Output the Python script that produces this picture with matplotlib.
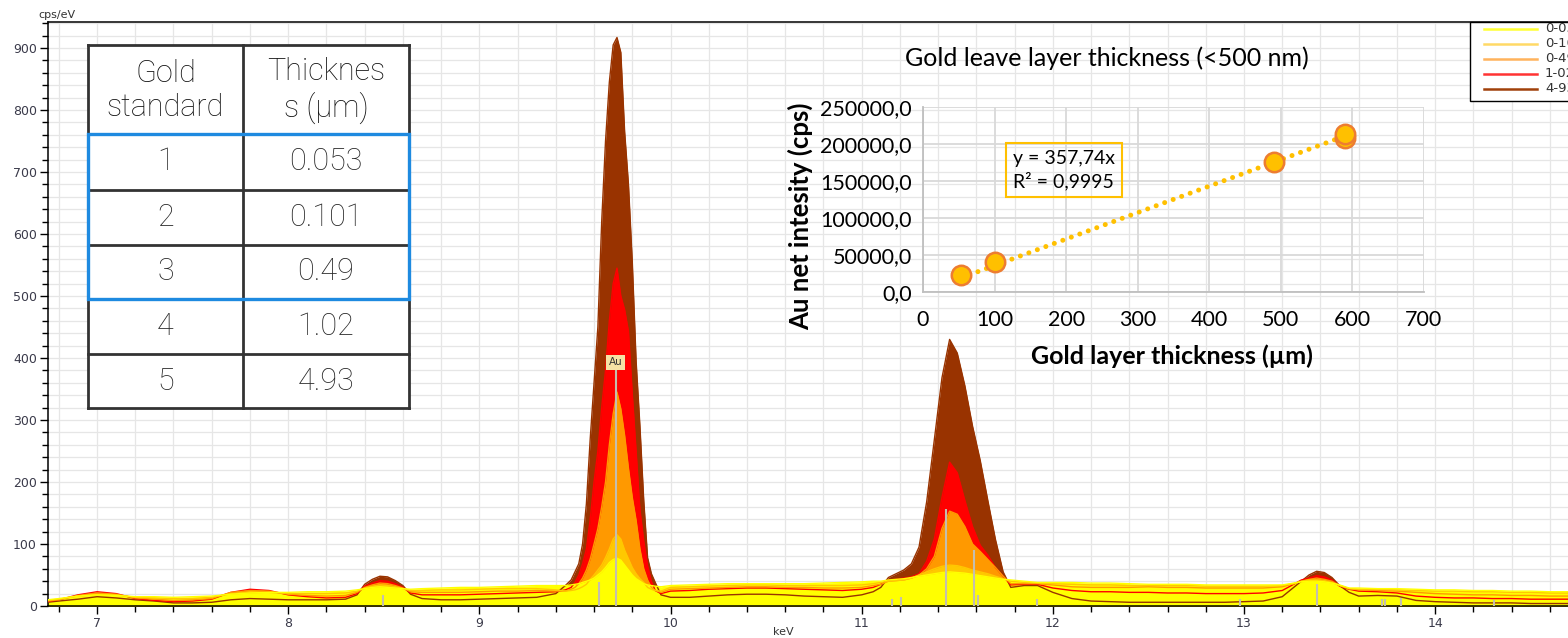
import numpy as np
import matplotlib
matplotlib.use("Agg")
import matplotlib.pyplot as plt
from matplotlib.lines import Line2D
from matplotlib.patches import Rectangle
from matplotlib.ticker import MultipleLocator, FuncFormatter

# ---- spectrum data (keV grid, counts in cps/eV) ----
kev = [6.74, 6.80, 6.90, 7.00, 7.10, 7.20, 7.30, 7.40, 7.50, 7.60, 7.70, 7.80, 7.90,
       8.00, 8.10, 8.20, 8.30, 8.36, 8.40, 8.44, 8.48, 8.52, 8.56, 8.60, 8.64, 8.70,
       8.80, 8.90, 9.00, 9.10, 9.20, 9.30, 9.40,
       9.45, 9.48, 9.50, 9.52, 9.54, 9.56, 9.58, 9.60, 9.62, 9.64, 9.66, 9.68, 9.70,
       9.72, 9.74, 9.76, 9.78, 9.80, 9.82, 9.84, 9.86, 9.88, 9.90, 9.92, 9.95,
       10.00, 10.10, 10.20, 10.30, 10.40, 10.50, 10.60, 10.70, 10.80, 10.90, 11.00, 11.06,
       11.10, 11.14, 11.18, 11.22, 11.26, 11.30, 11.34, 11.38, 11.42, 11.46, 11.50,
       11.54, 11.58, 11.62, 11.66, 11.70, 11.74, 11.78,
       11.85, 11.92, 12.00, 12.10, 12.20, 12.30, 12.40, 12.50, 12.60, 12.70, 12.80,
       12.90, 13.00, 13.10, 13.20, 13.26, 13.30, 13.34, 13.38, 13.42, 13.46, 13.50,
       13.55, 13.60, 13.70, 13.80, 13.90, 14.00, 14.10, 14.20, 14.30, 14.40, 14.50,
       14.60, 14.70, 14.80]

s_0053 = [10, 12, 16, 18, 17, 15, 15, 14, 15, 16, 19, 21, 22,
          22, 23, 23, 24, 26, 28, 30, 31, 30, 29, 28, 27, 28,
          29, 30, 30, 31, 32, 33, 33,
          33, 34, 35, 36, 38, 40, 42, 45, 50, 55, 62, 70, 75,
          77, 74, 66, 58, 50, 44, 40, 36, 34, 33, 32, 31,
          33, 34, 35, 36, 36, 36, 36, 36, 37, 38, 39, 40,
          40, 42, 43, 44, 46, 48, 50, 52, 54, 55, 54,
          53, 51, 49, 47, 45, 43, 42,
          40, 38, 38, 38, 37, 37, 36, 35, 35, 35, 34,
          34, 34, 34, 34, 37, 39, 40, 40, 39, 37, 34,
          29, 29, 28, 28, 27, 26, 26, 25, 25, 24, 24,
          23, 23, 22]

s_0101 = [9, 11, 16, 19, 18, 14, 13, 12, 12, 14, 20, 23, 22,
          20, 20, 20, 21, 24, 29, 32, 34, 33, 31, 28, 25, 25,
          26, 26, 27, 28, 28, 28, 26,
          24, 25, 26, 28, 31, 35, 43, 50, 58, 66, 78, 92, 108,
          115, 108, 90, 76, 62, 52, 44, 38, 30, 27, 25, 24,
          30, 31, 32, 33, 34, 34, 33, 33, 33, 33, 34, 36,
          38, 40, 41, 42, 45, 50, 55, 60, 64, 66, 65,
          62, 58, 55, 52, 48, 44, 40,
          38, 37, 36, 35, 34, 34, 33, 33, 33, 33, 32,
          32, 32, 32, 33, 36, 40, 42, 42, 41, 38, 33,
          28, 27, 27, 26, 25, 24, 24, 23, 23, 22, 22,
          21, 21, 20]

s_049 = [8, 10, 17, 21, 19, 13, 11, 9, 10, 12, 22, 25, 24,
         19, 17, 16, 17, 22, 30, 34, 37, 36, 33, 29, 23, 22,
         22, 22, 23, 24, 24, 25, 24,
         24, 27, 30, 36, 45, 58, 76, 100, 125, 160, 200, 260, 310,
         345, 318, 275, 222, 175, 138, 92, 60, 42, 30, 25, 22,
         27, 28, 29, 30, 31, 31, 30, 30, 29, 29, 30, 33,
         35, 40, 41, 42, 45, 50, 60, 80, 125, 153, 148,
         128, 100, 88, 75, 62, 48, 36,
         36, 36, 34, 31, 30, 30, 30, 31, 30, 30, 29,
         29, 29, 29, 31, 36, 40, 43, 45, 43, 40, 33,
         28, 26, 25, 24, 22, 20, 19, 18, 18, 17, 17,
         16, 16, 15]

s_102 = [7, 10, 18, 23, 20, 12, 9, 7, 8, 11, 22, 27, 25,
         18, 15, 13, 14, 20, 32, 37, 41, 40, 36, 30, 21, 18,
         18, 18, 19, 20, 21, 22, 23,
         26, 30, 38, 50, 68, 92, 140, 200, 250, 320, 380, 460, 520,
         545, 500, 478, 443, 342, 250, 155, 105, 65, 40, 25, 20,
         24, 25, 27, 28, 29, 29, 28, 27, 26, 25, 27, 30,
         35, 42, 43, 45, 47, 52, 72, 108, 175, 232, 215,
         170, 128, 98, 82, 62, 48, 34,
         35, 35, 29, 25, 23, 23, 22, 22, 21, 21, 20,
         20, 20, 21, 25, 35, 42, 45, 49, 47, 42, 32,
         27, 24, 23, 21, 16, 14, 13, 13, 12, 12, 11,
         11, 11, 10]

s_493 = [6, 8, 11, 15, 13, 10, 8, 5, 5, 6, 10, 12, 11,
         10, 10, 10, 11, 18, 35, 43, 48, 47, 41, 33, 19, 12,
         10, 10, 11, 12, 13, 14, 20,
         33, 42, 55, 68, 100, 165, 270, 360, 450, 620, 750, 845, 905,
         917, 893, 765, 680, 555, 395, 290, 170, 78, 52, 38, 18,
         14, 14, 16, 18, 19, 19, 18, 16, 15, 14, 18, 23,
         30, 46, 52, 58, 68, 95, 168, 268, 368, 430, 408,
         355, 290, 235, 170, 107, 55, 30,
         33, 33, 22, 12, 8, 7, 6, 6, 6, 6, 6,
         6, 7, 8, 15, 30, 40, 50, 56, 54, 46, 33,
         22, 16, 17, 16, 9, 7, 6, 5, 5, 5, 4,
         4, 4, 4]

series_labels = ["0-053", "0-101", "0-49", "1-02", "4-93"]
series_colors = ["#FFFF00", "#FFC800", "#FF9900", "#FF0000", "#993300"]
legend_colors = ["#FFFF33", "#FFD966", "#FFB35C", "#FF3333", "#A0400A"]

# element marker lines (keV, height)
line_kev = [8.494, 9.628, 9.713, 11.158, 11.205, 11.442, 11.585, 11.610, 11.915,
            12.98, 13.381, 13.72, 13.74, 13.82, 14.31]
line_h = [18, 39, 380, 11, 15, 156, 90, 18, 12, 12, 35, 12, 12, 13, 10]

# ---- inset data ----
thick = [53, 101, 490, 590, 590]
intensity = [22900, 40500, 175500, 208000, 213000]
trend_x = [53, 607]
trend_y = [19000, 217100]

# ---- table data ----
tab_header = ["Gold\nstandard", "Thicknes\ns (\u00b5m)"]
tab_std = ["1", "2", "3", "4", "5"]
tab_thick = ["0.053", "0.101", "0.49", "1.02", "4.93"]

W, H = 1568, 638


def fx(px):
    return px / W


def fy(py):
    return 1 - py / H


fig = plt.figure(figsize=(W / 100, H / 100), dpi=100)

# ---- main spectrum ----
ax = fig.add_axes([fx(48), fy(606), (1590 - 48) / W, 584 / H])
all_series = [s_0053, s_0101, s_049, s_102, s_493]
for vals, col in reversed(list(zip(all_series, series_colors))):
    ax.fill_between(kev, 0, vals, color=col, lw=0, zorder=2)
for vals, col in reversed(list(zip(all_series, series_colors))):
    ax.plot(kev, vals, color=col, lw=1.0, zorder=3)
ax.vlines(line_kev, 0, line_h, color="#C4BEAE", lw=1.5, zorder=4)
ax.text(9.713, 393, "Au", fontsize=7.5, ha="center", va="center", color="#333333",
        bbox=dict(boxstyle="square,pad=0.25", fc="#F6E2A4", ec="none"), zorder=5)

ax.set_xlim(6.7435, 14.81)
ax.set_ylim(0, 942)
ax.xaxis.set_major_locator(MultipleLocator(1))
ax.xaxis.set_minor_locator(MultipleLocator(0.2))
ax.yaxis.set_major_locator(MultipleLocator(100))
ax.yaxis.set_minor_locator(MultipleLocator(20))
ax.grid(True, which="both", color="#E6E6E6", lw=0.9, zorder=0)
ax.set_axisbelow(True)
ax.tick_params(which="major", direction="out", length=6, width=1, labelsize=9,
               labelcolor="#3A3A4A", pad=2)
ax.tick_params(which="minor", direction="out", length=4, width=1)
for sp in ax.spines.values():
    sp.set_color("black")
    sp.set_linewidth(1.1)

fig.text(fx(38), fy(15), "cps/eV", fontsize=8, color="#333333", va="center")
fig.text(fx(783), fy(632), "keV", fontsize=8, color="#333333", ha="center", va="center")

# legend box (cut by the right edge like in the original screenshot)
fig.add_artist(Rectangle((fx(1470), fy(101)), (1600 - 1470) / W, (101 - 22) / H,
                         transform=fig.transFigure, fc="white", ec="black", lw=1.0))
for i, (lab, col) in enumerate(zip(series_labels, legend_colors)):
    yy = 28.7 + 15 * i
    fig.add_artist(Line2D([fx(1484), fx(1537)], [fy(yy), fy(yy)],
                          transform=fig.transFigure, color=col, lw=1.8))
    fig.text(fx(1545), fy(yy), lab, fontsize=9.5, color="#333333", va="center")

# ---- inset calibration chart ----
ax_in = fig.add_axes([fx(923), fy(292), 501 / W, 185 / H])
ax_in.patch.set_alpha(0)
ax_in.set_xlim(0, 700)
ax_in.set_ylim(0, 250000)
ax_in.xaxis.set_major_locator(MultipleLocator(100))
ax_in.yaxis.set_major_locator(MultipleLocator(50000))
ax_in.yaxis.set_major_formatter(FuncFormatter(lambda v, p: f"{v:.1f}".replace(".", ",")))
ax_in.grid(True, color="#D9D9D9", lw=1.3)
ax_in.set_axisbelow(True)
for side in ["top", "right"]:
    ax_in.spines[side].set_visible(False)
for side in ["left", "bottom"]:
    ax_in.spines[side].set_color("#BFBFBF")
    ax_in.spines[side].set_linewidth(1.3)
ax_in.tick_params(length=0, labelsize=15.5, labelcolor="black")
ax_in.tick_params(axis="x", pad=13)
ax_in.tick_params(axis="y", pad=8)
for lab in ax_in.get_xticklabels() + ax_in.get_yticklabels():
    lab.set_family("Lato")

ax_in.plot(trend_x, trend_y, color="#FFC000", lw=3.6, linestyle=(0, (0.01, 1.8)),
           dash_capstyle="round", zorder=4)
ax_in.plot(thick, intensity, "o", ms=14, mfc="#FFC000", mec="#ED7D31", mew=1.8,
           zorder=5, clip_on=False)
ax_in.text(0.281, 0.659, "y = 357,74x\nR\u00b2 = 0,9995", transform=ax_in.transAxes,
           ha="center", va="center", fontsize=14, family="Lato", linespacing=1.3,
           bbox=dict(boxstyle="square,pad=0.35", fc="none", ec="#FFC000", lw=1.5))
ax_in.text(0.367, 1.265, "Gold leave layer thickness (<500 nm)", transform=ax_in.transAxes,
           ha="center", va="center", fontsize=18, family="Lato")
ax_in.set_xlabel("Gold layer thickness (\u00b5m)", fontsize=18, fontweight="bold",
                 family="Lato", va="center")
ax_in.xaxis.set_label_coords(0.497, -0.346)
ax_in.set_ylabel("Au net intesity (cps)", fontsize=18.5, fontweight="bold", family="Lato",
                 va="center")
ax_in.yaxis.set_label_coords(-0.2455, 0.41)

# ---- table ----
ax_t = fig.add_axes([fx(88), fy(408), 321 / W, 363 / H])
ax_t.set_xlim(88, 409)
ax_t.set_ylim(408, 45)
ax_t.set_xticks([])
ax_t.set_yticks([])
for sp in ax_t.spines.values():
    sp.set_visible(False)
ax_t.set_facecolor("white")
row_edges = [45, 134, 190, 245, 299, 354, 408]
col_edges = [88, 243, 409]
for y in row_edges:
    ax_t.plot([88, 409], [y, y], color="#333333", lw=2, clip_on=False,
              solid_capstyle="projecting")
for x in col_edges:
    ax_t.plot([x, x], [45, 408], color="#333333", lw=2, clip_on=False,
              solid_capstyle="projecting")
ax_t.add_patch(Rectangle((88, 134), 321, 165, fill=False, ec="#1E8AE0", lw=2.4,
                         clip_on=False, zorder=5))
cx = [(col_edges[0] + col_edges[1]) / 2, (col_edges[1] + col_edges[2]) / 2]
for j, txt in enumerate(tab_header):
    ax_t.text(cx[j], (row_edges[0] + row_edges[1]) / 2 + 1, txt, ha="center", va="center",
              fontsize=22, family="Roboto", fontweight="light", color="#111111",
              linespacing=1.2)
for i in range(len(tab_std)):
    yc = (row_edges[i + 1] + row_edges[i + 2]) / 2
    ax_t.text(cx[0], yc, tab_std[i], ha="center", va="center", fontsize=22,
              family="Roboto", fontweight="light", color="#262626")
    ax_t.text(cx[1], yc, tab_thick[i], ha="center", va="center", fontsize=22,
              family="Roboto", fontweight="light", color="#262626")

fig.savefig("out.png", dpi=100)
